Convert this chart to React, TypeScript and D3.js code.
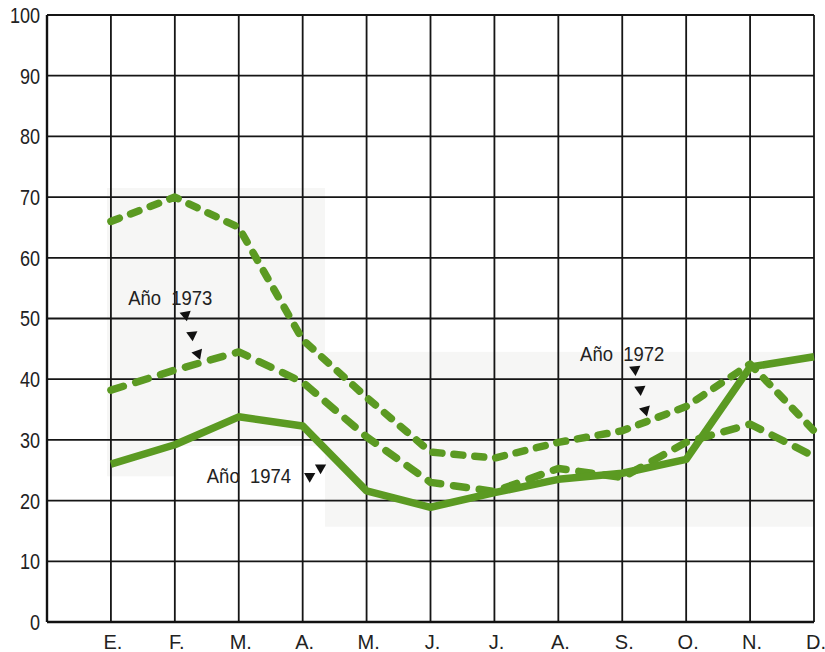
import { useEffect, useRef } from 'react';
import * as d3 from 'd3';

const months = ['E.', 'F.', 'M.', 'A.', 'M.', 'J.', 'J.', 'A.', 'S.', 'O.', 'N.', 'D.'];
const yTicks = [0, 10, 20, 30, 40, 50, 60, 70, 80, 90, 100];

const serie1972 = [66, 70, 65, 46.5, 37, 28, 27, 29.6, 31.5, 35.5, 42.5, 31.5];
const serie1973 = [38.2, 41.5, 44.5, 39.5, 30.5, 23, 21.5, 25.3, 23.8, 29.6, 32.6, 27.3];
const serie1974 = [26, 29.2, 33.8, 32.3, 21.6, 18.9, 21.3, 23.5, 24.5, 26.8, 42, 43.7];

// annotation labels: month position (0 = axis), value
const labels = [
  { text: 'Año  1973', m: 1.27, v: 53.5 },
  { text: 'Año  1972', m: 8.34, v: 44.2 },
  { text: 'Año  1974', m: 2.5, v: 24.2 },
];
const arrows = [
  { m: 2.17, v: 50.6, rot: 170 },
  { m: 2.27, v: 47.3, rot: 175 },
  { m: 2.36, v: 44.2, rot: 160 },
  { m: 9.2, v: 41.6, rot: 175 },
  { m: 9.28, v: 38.3, rot: 175 },
  { m: 9.36, v: 34.9, rot: 165 },
  { m: 4.11, v: 24.0, rot: 180 },
  { m: 4.28, v: 25.4, rot: 180 },
];

const GREEN = '#5b9a22';
const FONT = '"Liberation Sans", Arial, sans-serif';

export default function App() {
  const svgRef = useRef<SVGSVGElement>(null);

  useEffect(() => {
    if (!svgRef.current) return;
    const svg = d3.select(svgRef.current);
    svg.selectAll('*').remove();

    const width = 825;
    const height = 652;
    const x = d3.scaleLinear().domain([0, 12]).range([47, 814]);
    const y = d3.scaleLinear().domain([0, 100]).range([622, 15]);

    svg.append('rect').attr('width', width).attr('height', height).attr('fill', '#fff');

    // faint paper tone patches
    const tone = '#f6f6f5';
    svg.append('rect').attr('x', x(0.94)).attr('y', y(71.5)).attr('width', x(4.35) - x(0.94))
      .attr('height', y(29) - y(71.5)).attr('fill', tone);
    svg.append('rect').attr('x', x(0.94)).attr('y', y(29)).attr('width', x(2) - x(0.94))
      .attr('height', y(24) - y(29)).attr('fill', tone);
    svg.append('rect').attr('x', x(4.35)).attr('y', y(44.5)).attr('width', x(12) - x(4.35))
      .attr('height', y(15.7) - y(44.5)).attr('fill', tone);

    const grid = svg.append('g').attr('stroke', '#151515').attr('stroke-width', 1.8);
    yTicks.forEach(t => {
      grid.append('line').attr('x1', x(0)).attr('x2', x(12)).attr('y1', y(t)).attr('y2', y(t));
    });
    d3.range(0, 13).forEach(i => {
      grid.append('line').attr('x1', x(i)).attr('x2', x(i)).attr('y1', y(0)).attr('y2', y(100));
    });
    // axes a bit heavier
    svg.append('line').attr('x1', x(0)).attr('x2', x(0)).attr('y1', y(0)).attr('y2', y(100))
      .attr('stroke', '#111').attr('stroke-width', 2.4);
    svg.append('line').attr('x1', x(0)).attr('x2', x(12)).attr('y1', y(0)).attr('y2', y(0))
      .attr('stroke', '#111').attr('stroke-width', 2.4);

    // y tick labels (condensed look)
    svg.append('g').selectAll('text').data(yTicks).join('text')
      .attr('transform', d => `translate(40,${y(d)}) scale(0.82,1)`).attr('dy', '0.36em')
      .attr('text-anchor', 'end').attr('font-family', FONT).attr('font-size', 22)
      .attr('fill', '#222').text(d => d);

    // month labels
    svg.append('g').selectAll('text').data(months).join('text')
      .attr('x', (_, i) => x(i + 1) + 2).attr('y', 649)
      .attr('text-anchor', 'middle').attr('font-family', FONT).attr('font-size', 20)
      .attr('fill', '#222').text(d => d);

    const lineGen = d3.line<number>().x((_, i) => x(i + 1)).y(d => y(d));

    svg.append('path').datum(serie1972).attr('d', lineGen)
      .attr('fill', 'none').attr('stroke', GREEN).attr('stroke-width', 7.5)
      .attr('stroke-linecap', 'round').attr('stroke-linejoin', 'round')
      .attr('stroke-dasharray', '9,12');
    svg.append('path').datum(serie1973).attr('d', lineGen)
      .attr('fill', 'none').attr('stroke', GREEN).attr('stroke-width', 7.5)
      .attr('stroke-linecap', 'round').attr('stroke-linejoin', 'round')
      .attr('stroke-dasharray', '13,13');
    svg.append('path').datum(serie1974).attr('d', lineGen)
      .attr('fill', 'none').attr('stroke', GREEN).attr('stroke-width', 7.5)
      .attr('stroke-linejoin', 'round');

    // annotations
    svg.append('g').selectAll('text').data(labels).join('text')
      .attr('transform', d => `translate(${x(d.m)},${y(d.v)}) scale(0.88,1)`).attr('dy', '0.36em')
      .attr('font-family', FONT).attr('font-size', 21).attr('fill', '#222')
      .attr('xml:space', 'preserve').style('white-space', 'pre')
      .text(d => d.text);

    const tri = d3.symbol().type(d3.symbolTriangle).size(55);
    svg.append('g').selectAll('path').data(arrows).join('path')
      .attr('d', tri)
      .attr('transform', d => `translate(${x(d.m)},${y(d.v)}) rotate(${d.rot})`)
      .attr('fill', '#111');
  }, []);

  return (
    <div style={{ position: 'absolute', left: 0, top: 0 }}>
      <svg ref={svgRef} width={825} height={652} style={{ display: 'block' }} />
    </div>
  );
}
